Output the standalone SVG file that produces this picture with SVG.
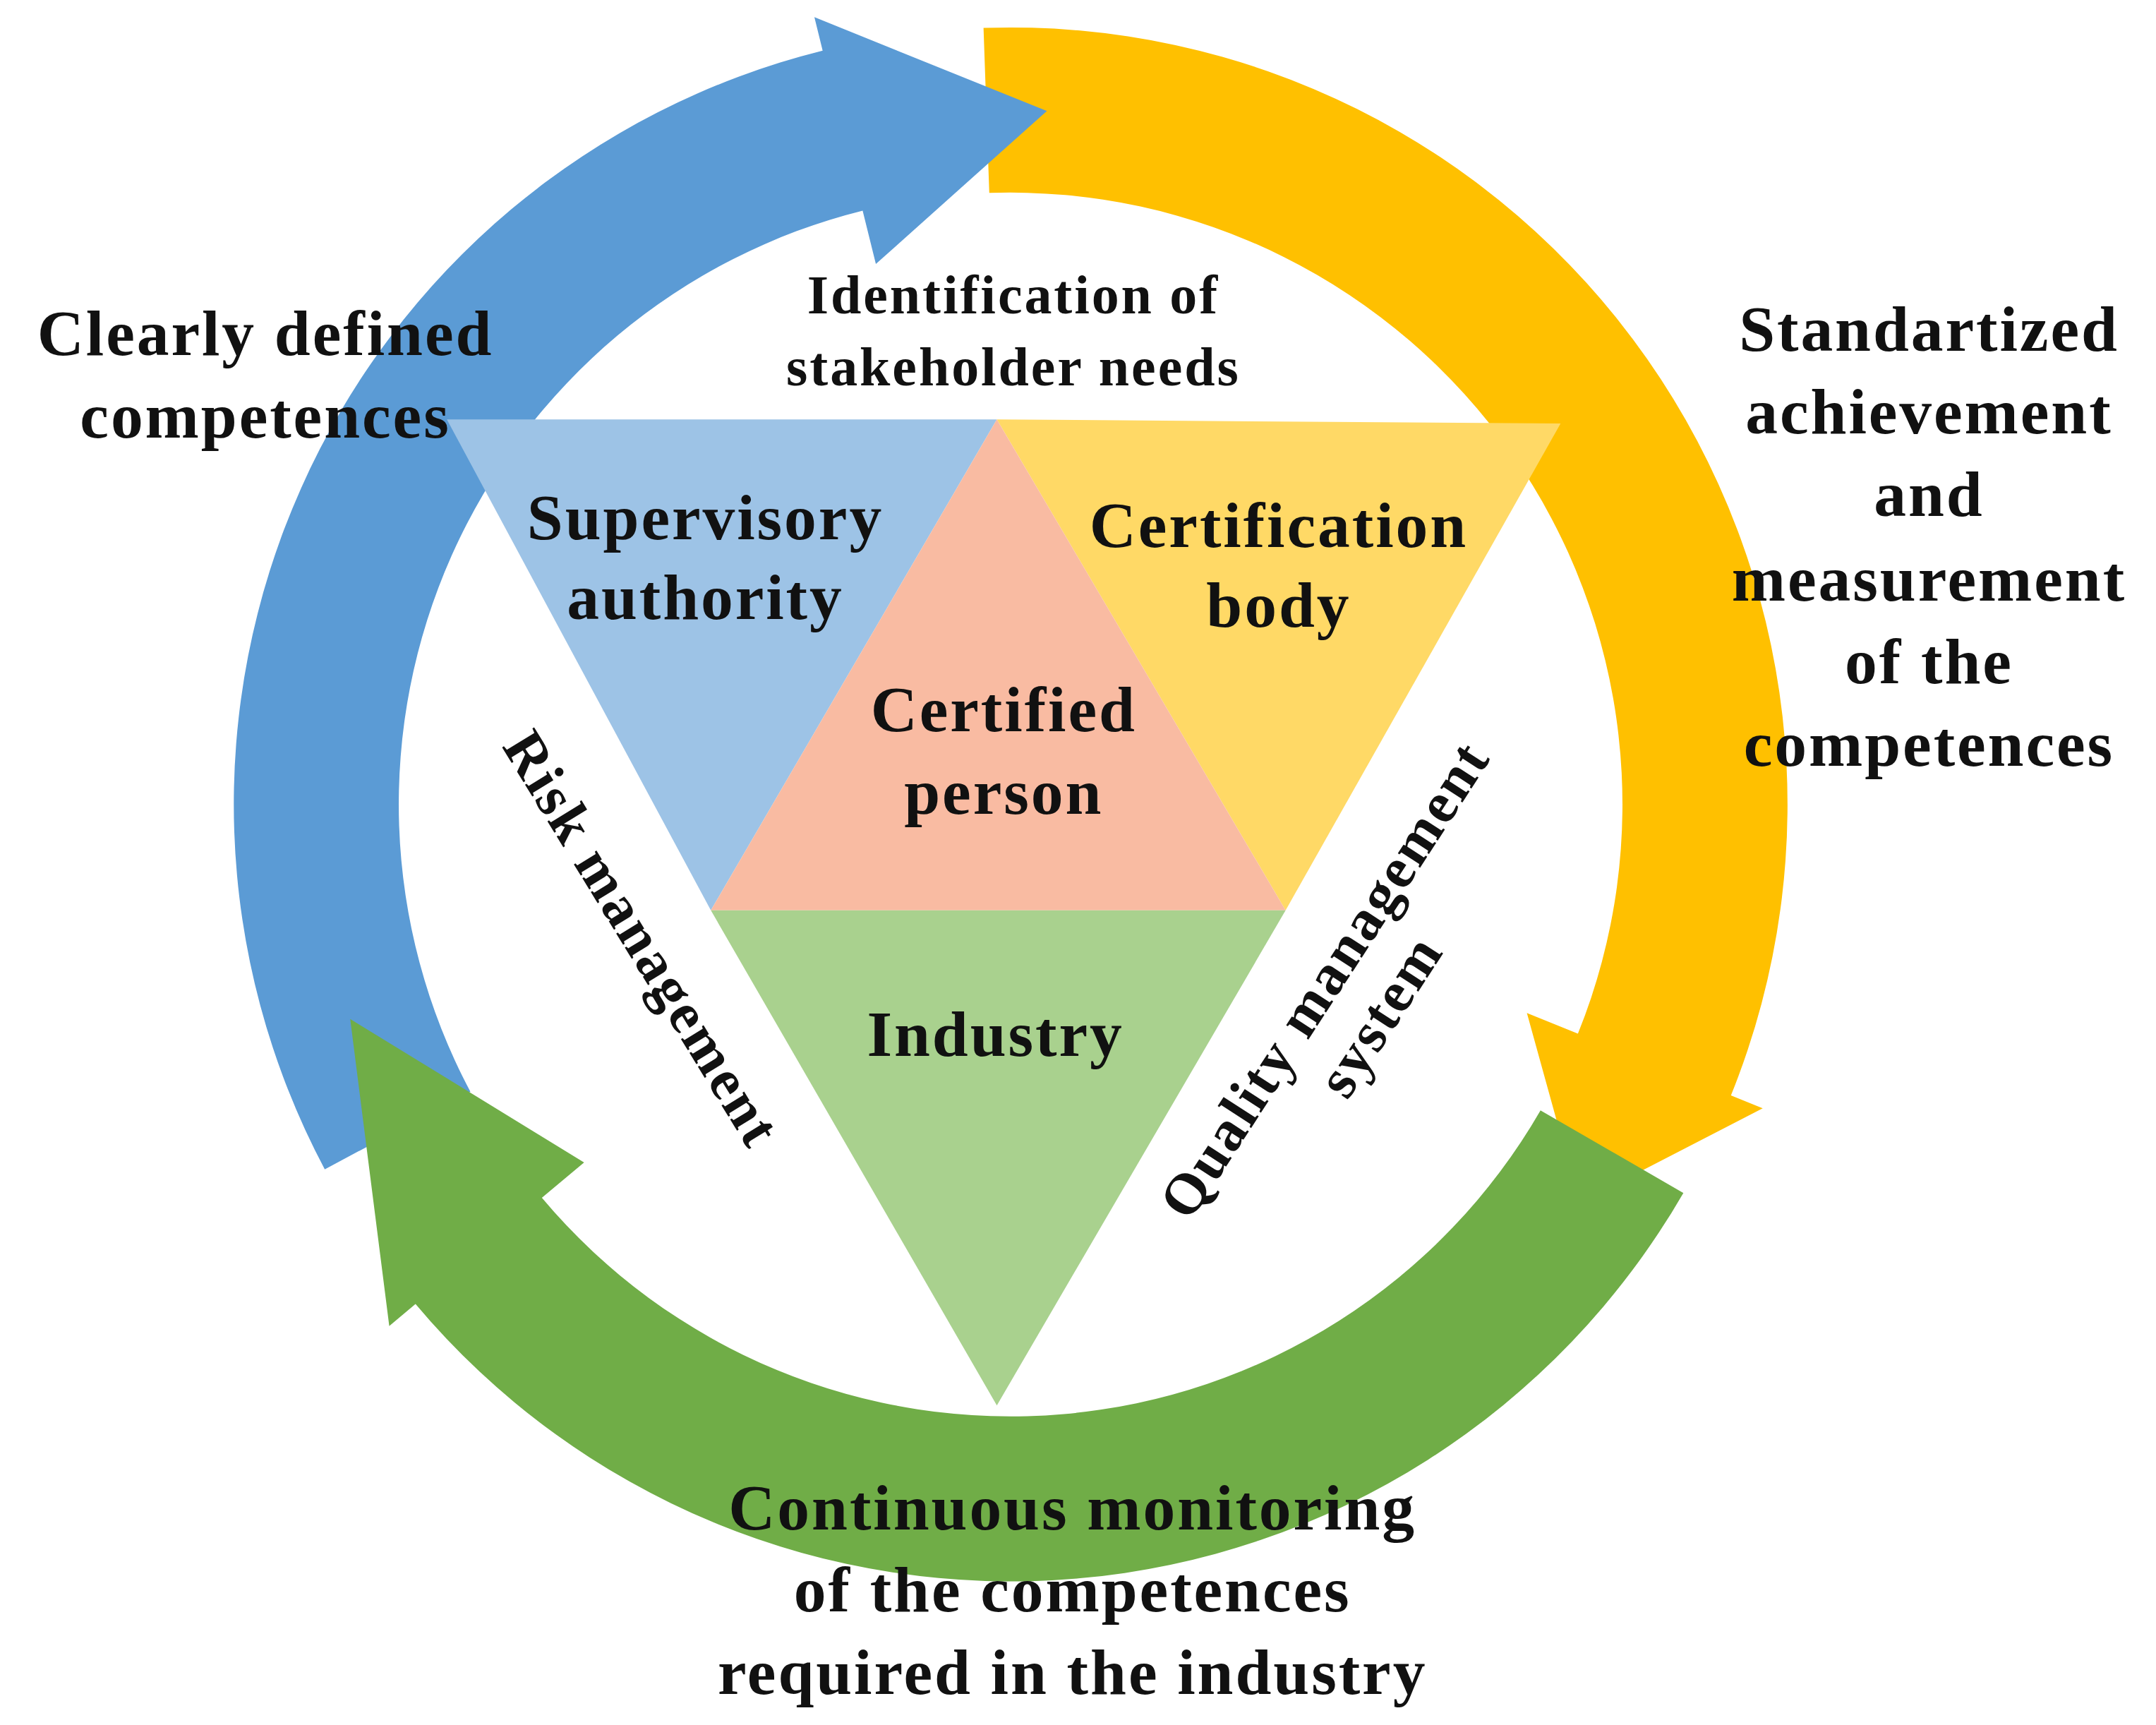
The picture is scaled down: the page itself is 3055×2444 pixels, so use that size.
<svg xmlns="http://www.w3.org/2000/svg" width="3055" height="2444" viewBox="0 0 3055 2444">
<style>
text{font-family:"Liberation Serif","DejaVu Serif",serif;font-weight:bold;fill:#111;text-anchor:middle;letter-spacing:1.5px}
.big{font-size:47px}
.mid{font-size:40px}
.rot{font-size:42px}
</style>
<rect width="3055" height="2444" fill="#fff"/>
<g transform="scale(1.9483)">
<g id="connectors">
<path id="arrow-yellow" fill="#FFC000" d="M715.3,20.3 A565,565 0 0 1 1258.9,796.6 L1282,806 L1148.7,874.7 L1110.5,736.7 L1147.6,751.7 A445,445 0 0 0 719.5,140.3 Z"/>
<path id="arrow-blue" fill="#5B9BD5" d="M236.2,850.3 A565,565 0 0 1 598.3,36.8 L592.3,12.5 L761.4,80.7 L637,192 L627.4,153.2 A445,445 0 0 0 342.1,793.9 Z"/>
<path id="arrow-green" fill="#70AD47" d="M1224.3,867.5 A565,565 0 0 1 302.2,948.2 L283.1,964.3 L254.7,741 L424.8,845.3 L394.1,871 A445,445 0 0 0 1120.4,807.5 Z"/>
</g>
<g id="triangle">
<polygon id="supervisory" points="325,305 725,305 517,662" fill="#9DC3E6"/>
<polygon id="certbody" points="725,305 1135,308 935,662" fill="#FFD966"/>
<polygon id="certperson" points="725,305 935,662 517,662" fill="#F9BBA2"/>
<polygon id="industry" points="517,662 935,662 725,1022" fill="#A9D18E"/>
</g>
<g id="labels">
<text class="big" x="193" y="258">Clearly defined</text>
<text class="big" x="193" y="318">competences</text>
<text class="mid" x="737" y="228">Identification of</text>
<text class="mid" x="737" y="280">stakeholder needs</text>
<text class="big" x="1403" y="255">Standartized</text>
<text class="big" x="1403" y="315">achievement</text>
<text class="big" x="1403" y="375">and</text>
<text class="big" x="1403" y="437">measurement</text>
<text class="big" x="1403" y="497">of the</text>
<text class="big" x="1403" y="557">competences</text>
<text class="big" x="513" y="392">Supervisory</text>
<text class="big" x="513" y="450">authority</text>
<text class="big" x="930" y="398">Certification</text>
<text class="big" x="930" y="456">body</text>
<text class="big" x="730" y="532">Certified</text>
<text class="big" x="730" y="592">person</text>
<text class="big" x="724" y="768">Industry</text>
<text class="rot" transform="translate(455,690) rotate(58.5)">Risk management</text>
<g transform="translate(975,720) rotate(-57)">
<text class="rot" x="0" y="0">Quality management</text>
<text class="rot" x="0" y="48">system</text>
</g>
<text class="big" x="780" y="1112">Continuous monitoring</text>
<text class="big" x="780" y="1172">of the competences</text>
<text class="big" x="780" y="1232">required in the industry</text>
</g>
</g>
</svg>
